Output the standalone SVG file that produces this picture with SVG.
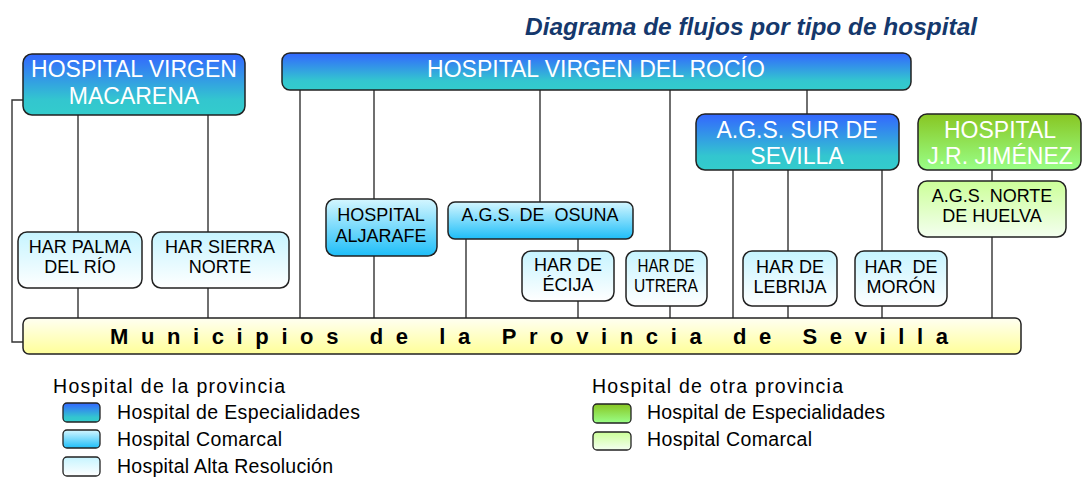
<svg xmlns="http://www.w3.org/2000/svg" width="1083" height="477" viewBox="0 0 1083 477">
<defs>
<linearGradient id="gEsp" x1="0" y1="0" x2="0" y2="1"><stop offset="0" stop-color="#3366FF"/><stop offset="0.75" stop-color="#33C6CF"/><stop offset="1" stop-color="#33CCCC"/></linearGradient>
<linearGradient id="gCom" x1="0" y1="0" x2="0" y2="1"><stop offset="0" stop-color="#D4F6FF"/><stop offset="1" stop-color="#1EBEF8"/></linearGradient>
<linearGradient id="gHar" x1="0" y1="0" x2="0" y2="1"><stop offset="0" stop-color="#C6F4FF"/><stop offset="1" stop-color="#FFFFFF"/></linearGradient>
<linearGradient id="gGrEsp" x1="0" y1="0" x2="0" y2="1"><stop offset="0" stop-color="#88C622"/><stop offset="1" stop-color="#99FF88"/></linearGradient>
<linearGradient id="gGrCom" x1="0" y1="0" x2="0" y2="1"><stop offset="0" stop-color="#CCFF99"/><stop offset="1" stop-color="#F4FFF0"/></linearGradient>
<linearGradient id="gYel" x1="0" y1="0" x2="0" y2="1"><stop offset="0" stop-color="#FFFFF2"/><stop offset="1" stop-color="#FFFF99"/></linearGradient>
</defs>
<style>
.box{stroke:#222;stroke-width:1.5}
.lt{font-family:"Liberation Sans",Arial,sans-serif;font-size:23px;fill:#fff;text-anchor:middle}
.dt{font-family:"Liberation Sans",Arial,sans-serif;font-size:18px;fill:#000;text-anchor:middle}
.con{stroke:#333;stroke-width:1.4;fill:none}
.lg{font-family:"Liberation Sans",Arial,sans-serif;font-size:19.5px;fill:#000}
.sw{stroke:#222;stroke-width:1.3}
</style>
<text x="525" y="35" font-family="Liberation Sans,Arial,sans-serif" font-size="24" font-weight="bold" font-style="italic" fill="#15386C" textLength="452" lengthAdjust="spacingAndGlyphs">Diagrama de flujos por tipo de hospital</text>

<g id="connectors" class="con">
<path d="M23,100 H12 V342 H23"/>
<path d="M78,115 V232 M78,288 V318"/>
<path d="M208,115 V232 M208,288 V318"/>
<path d="M300,90 V318"/>
<path d="M374,90 V199 M374,256 V318"/>
<path d="M540,90 V202"/>
<path d="M466,239 V318"/>
<path d="M578,239 V251 M578,301 V318"/>
<path d="M670,90 V251 M670,306 V318"/>
<path d="M807,90 V114"/>
<path d="M733,170 V318"/>
<path d="M788,170 V251 M788,306 V318"/>
<path d="M882,170 V251 M882,306 V318"/>
<path d="M992,170 V181 M992,237 V318"/>
</g>

<g id="macarena"><rect class="box" x="23" y="54" width="222" height="61" rx="9" fill="url(#gEsp)"/><text class="lt" x="134" y="77">HOSPITAL VIRGEN</text><text class="lt" x="134" y="104">MACARENA</text></g>
<g id="rocio"><rect class="box" x="282" y="53" width="629" height="37" rx="8" fill="url(#gEsp)"/><text class="lt" x="596" y="77">HOSPITAL VIRGEN DEL ROCÍO</text></g>
<g id="sur"><rect class="box" x="696" y="114" width="203" height="56" rx="9" fill="url(#gEsp)"/><text class="lt" x="797" y="138">A.G.S. SUR DE</text><text class="lt" x="797" y="164">SEVILLA</text></g>
<g id="jimenez"><rect class="box" x="918" y="114" width="163" height="56" rx="9" fill="url(#gGrEsp)"/><text class="lt" x="1000" y="138">HOSPITAL</text><text class="lt" x="1000" y="164">J.R. JIMÉNEZ</text></g>
<g id="norte"><rect class="box" x="918" y="181" width="148" height="56" rx="9" fill="url(#gGrCom)"/><text class="dt" x="992" y="202">A.G.S. NORTE</text><text class="dt" x="992" y="222">DE HUELVA</text></g>
<g id="palma"><rect class="box" x="18" y="232" width="124" height="56" rx="9" fill="url(#gHar)"/><text class="dt" x="80" y="253">HAR PALMA</text><text class="dt" x="80" y="273">DEL RÍO</text></g>
<g id="sierra"><rect class="box" x="152" y="232" width="137" height="56" rx="9" fill="url(#gHar)"/><text class="dt" x="220" y="253">HAR SIERRA</text><text class="dt" x="220" y="273">NORTE</text></g>
<g id="aljarafe"><rect class="box" x="326" y="199" width="111" height="57" rx="9" fill="url(#gCom)"/><text class="dt" x="381" y="221">HOSPITAL</text><text class="dt" x="381" y="242">ALJARAFE</text></g>
<g id="osuna"><rect class="box" x="448" y="202" width="185" height="37" rx="7" fill="url(#gCom)"/><text class="dt" x="540" y="221" xml:space="preserve">A.G.S. DE  OSUNA</text></g>
<g id="ecija"><rect class="box" x="522" y="251" width="92" height="50" rx="9" fill="url(#gHar)"/><text class="dt" x="568" y="271">HAR DE</text><text class="dt" x="568" y="291">ÉCIJA</text></g>
<g id="utrera"><rect class="box" x="626" y="251" width="81" height="55" rx="9" fill="url(#gHar)"/><text class="dt" x="666" y="272" textLength="57" lengthAdjust="spacingAndGlyphs">HAR DE</text><text class="dt" x="666" y="292" textLength="64" lengthAdjust="spacingAndGlyphs">UTRERA</text></g>
<g id="lebrija"><rect class="box" x="743" y="251" width="94" height="55" rx="9" fill="url(#gHar)"/><text class="dt" x="790" y="273">HAR DE</text><text class="dt" x="790" y="293">LEBRIJA</text></g>
<g id="moron"><rect class="box" x="855" y="251" width="92" height="55" rx="9" fill="url(#gHar)"/><text class="dt" x="901" y="273" xml:space="preserve">HAR  DE</text><text class="dt" x="901" y="293">MORÓN</text></g>
<g id="municipios"><rect class="box" x="23" y="318" width="998" height="36" rx="6" fill="url(#gYel)"/><text x="110" y="344" font-family="Liberation Sans,Arial,sans-serif" font-size="22" font-weight="bold" fill="#000" textLength="838" lengthAdjust="spacing">Municipios de la Provincia de Sevilla</text></g>

<g id="legend">
<text class="lg" x="53" y="393" textLength="232" lengthAdjust="spacing">Hospital de la provincia</text>
<rect class="sw" x="63" y="403" width="37" height="19" rx="4" fill="url(#gEsp)"/>
<text class="lg" x="117" y="419" textLength="243" lengthAdjust="spacing">Hospital de Especialidades</text>
<rect class="sw" x="63" y="430" width="37" height="18" rx="4" fill="url(#gCom)"/>
<text class="lg" x="117" y="446" textLength="165" lengthAdjust="spacing">Hospital Comarcal</text>
<rect class="sw" x="63" y="457" width="37" height="19" rx="4" fill="url(#gHar)"/>
<text class="lg" x="117" y="473" textLength="216" lengthAdjust="spacing">Hospital Alta Resolución</text>
<text class="lg" x="592" y="393" textLength="251" lengthAdjust="spacing">Hospital de otra provincia</text>
<rect class="sw" x="593" y="404" width="38" height="19" rx="4" fill="url(#gGrEsp)"/>
<text class="lg" x="647" y="419" textLength="238" lengthAdjust="spacing">Hospital de Especialidades</text>
<rect class="sw" x="593" y="432" width="38" height="18" rx="4" fill="url(#gGrCom)"/>
<text class="lg" x="647" y="446" textLength="165" lengthAdjust="spacing">Hospital Comarcal</text>
</g>
</svg>
